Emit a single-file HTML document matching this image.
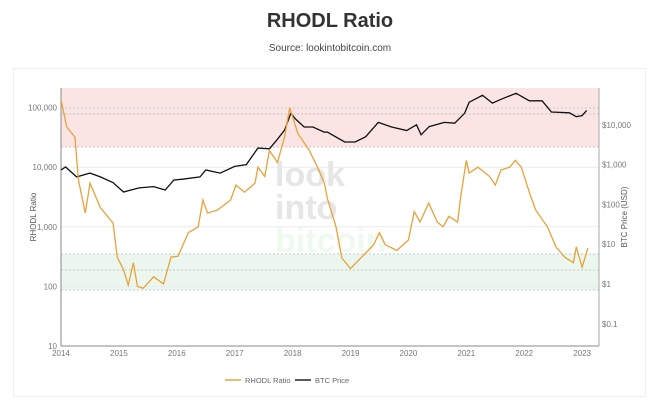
<!DOCTYPE html>
<html><head><meta charset="utf-8"><style>
body{margin:0;background:#fff;font-family:"Liberation Sans",sans-serif;}
#wrap{position:relative;width:660px;height:407px;overflow:hidden}
</style></head><body>
<div id="wrap">
<svg id="svg" width="660" height="407" xmlns="http://www.w3.org/2000/svg">
<text x="330" y="27" text-anchor="middle" font-size="20" font-weight="bold" fill="#333">RHODL Ratio</text>
<text x="330" y="51" text-anchor="middle" font-size="10" fill="#444">Source: lookintobitcoin.com</text>
<rect x="13.5" y="68.5" width="632" height="328" fill="none" stroke="#eee"/>
<g id="g"></g>
</svg></div>
<script>
const years=[2014,2015,2016,2017,2018,2019,2020,2021,2022,2023];
const leftTicks=[10,100,1000,10000,100000];
const leftLabels=["10","100","1,000","10,000","100,000"];
const rightTicks=[0.1,1,10,100,1000,10000];
const rightLabels=["$0.1","$1","$10","$100","$1,000","$10,000"];
const rhodlT=[2014.0,2014.1,2014.24,2014.3,2014.42,2014.5,2014.68,2014.9,2014.97,2015.08,2015.16,2015.25,2015.32,2015.42,2015.6,2015.77,2015.9,2016.02,2016.2,2016.37,2016.45,2016.53,2016.7,2016.93,2017.02,2017.17,2017.35,2017.4,2017.52,2017.6,2017.74,2017.86,2017.95,2018.09,2018.29,2018.43,2018.55,2018.6,2018.75,2018.85,2019.0,2019.1,2019.4,2019.5,2019.6,2019.8,2020.0,2020.1,2020.2,2020.35,2020.5,2020.6,2020.7,2020.85,2020.9,2021.0,2021.05,2021.2,2021.4,2021.5,2021.6,2021.75,2021.85,2021.95,2022.1,2022.2,2022.4,2022.55,2022.7,2022.85,2022.9,2023.0,2023.1];
const rhodlV=[135000,47000,32000,6200,1700,5400,2100,1150,310,190,105,250,100,93,145,110,310,320,800,1000,2800,1700,1900,2800,5000,3800,5400,10000,7000,19000,12000,32000,100000,37000,19000,10000,5400,3000,1000,300,200,250,500,800,500,400,600,1800,1200,2500,1200,1000,1500,1200,3000,13000,8000,10000,7000,5000,9000,10000,13000,10000,3500,1900,1000,460,310,250,460,210,440];
const btcT=[2014.0,2014.08,2014.27,2014.5,2014.68,2014.9,2015.08,2015.35,2015.6,2015.8,2015.95,2016.1,2016.4,2016.5,2016.75,2017.0,2017.2,2017.4,2017.6,2017.73,2017.86,2017.97,2018.05,2018.2,2018.35,2018.55,2018.6,2018.9,2019.08,2019.26,2019.48,2019.71,2019.97,2020.14,2020.22,2020.36,2020.62,2020.8,2020.97,2021.05,2021.28,2021.45,2021.62,2021.86,2022.09,2022.31,2022.47,2022.78,2022.9,2023.0,2023.08];
const btcV=[730,870,490,610,490,350,205,260,280,230,410,430,490,730,610,900,1000,2600,2500,4200,7300,19500,14000,8800,8800,6500,6600,3700,3700,5000,11500,8800,7200,10000,5600,9000,11500,11000,19500,37000,55000,35000,45000,62000,40000,40000,21000,20000,16000,17000,23000];
const X0=61,X1=599,Y0=88,Y1=346;
const xs=t=>61+(t-2014)*57.9;
const yl=v=>346-(Math.log10(v)-1)*59.6;
const yr=v=>284-Math.log10(v)*39.8;
const NS="http://www.w3.org/2000/svg",g=document.getElementById('g');
function mk(tag,at,txt){const e=document.createElementNS(NS,tag);for(const k in at)e.setAttribute(k,at[k]);if(txt!==undefined)e.textContent=txt;g.appendChild(e);return e;}
let e;
e=mk('rect',{x:X0,y:Y0,width:X1-X0,height:147-Y0,fill:'#fbe4e4'});


e=mk('rect',{x:X0,y:254,width:X1-X0,height:36,fill:'#ebf7ee'});


leftTicks.forEach((v,i)=>{const y=yl(v);
e=mk('line',{x1:X0,x2:X1,y1:y,y2:y,stroke:'#ececec'});


e=mk('text',{x:X0-4,y:y+3,'text-anchor':'end','font-size':8,fill:'#777'},leftLabels[i]);

});
[108,114,147,254,270,290].forEach(y=>{e=mk('line',{x1:X0,x2:X1,y1:y,y2:y,stroke:'#bbb','stroke-dasharray':'2,2','stroke-width':0.7});

});
rightTicks.forEach((v,i)=>{e=mk('text',{x:X1+3,y:yr(v)+3,'font-size':8,fill:'#777'},rightLabels[i]);

});
years.forEach(y=>{e=mk('text',{x:xs(y),y:356,'text-anchor':'middle','font-size':8,fill:'#777'},String(y));

});
[['look','#e6e6e6',186],['into','#e6e6e6',219],['bitcoin','#eef9f0',252]].forEach(w=>{e=mk('text',{x:275,y:w[2],'font-size':34,'font-weight':'bold',fill:w[1]},w[0]);

});
e=mk('line',{x1:X0,x2:X0,y1:Y0,y2:Y1,stroke:'#888','stroke-width':1});


e=mk('line',{x1:X1,x2:X1,y1:Y0,y2:Y1,stroke:'#aaa','stroke-width':1});


e=mk('line',{x1:X0,x2:X1,y1:Y1,y2:Y1,stroke:'#888','stroke-width':1});


e=mk('text',{x:36,y:217,'text-anchor':'middle','font-size':8,fill:'#555',transform:'rotate(-90 36 217)'},'RHODL Ratio');


e=mk('text',{x:627,y:217,'text-anchor':'middle','font-size':8,fill:'#555',transform:'rotate(-90 627 217)'},'BTC Price (USD)');


e=mk('polyline',{points:btcT.map((t,i)=>xs(t).toFixed(1)+','+yr(btcV[i]).toFixed(1)).join(' '),fill:'none',stroke:'#111','stroke-width':1.3});


e=mk('polyline',{points:rhodlT.map((t,i)=>xs(t).toFixed(1)+','+yl(rhodlV[i]).toFixed(1)).join(' '),fill:'none',stroke:'#e8a23a','stroke-width':1.3});


e=mk('line',{x1:225,x2:241,y1:380,y2:380,stroke:'#e8a23a','stroke-width':1.5});


e=mk('text',{x:245,y:383,'font-size':7.5,fill:'#666'},'RHODL Ratio');


e=mk('line',{x1:295,x2:311,y1:380,y2:380,stroke:'#222','stroke-width':1.5});


e=mk('text',{x:315,y:383,'font-size':7.5,fill:'#666'},'BTC Price');


</script></body></html>
